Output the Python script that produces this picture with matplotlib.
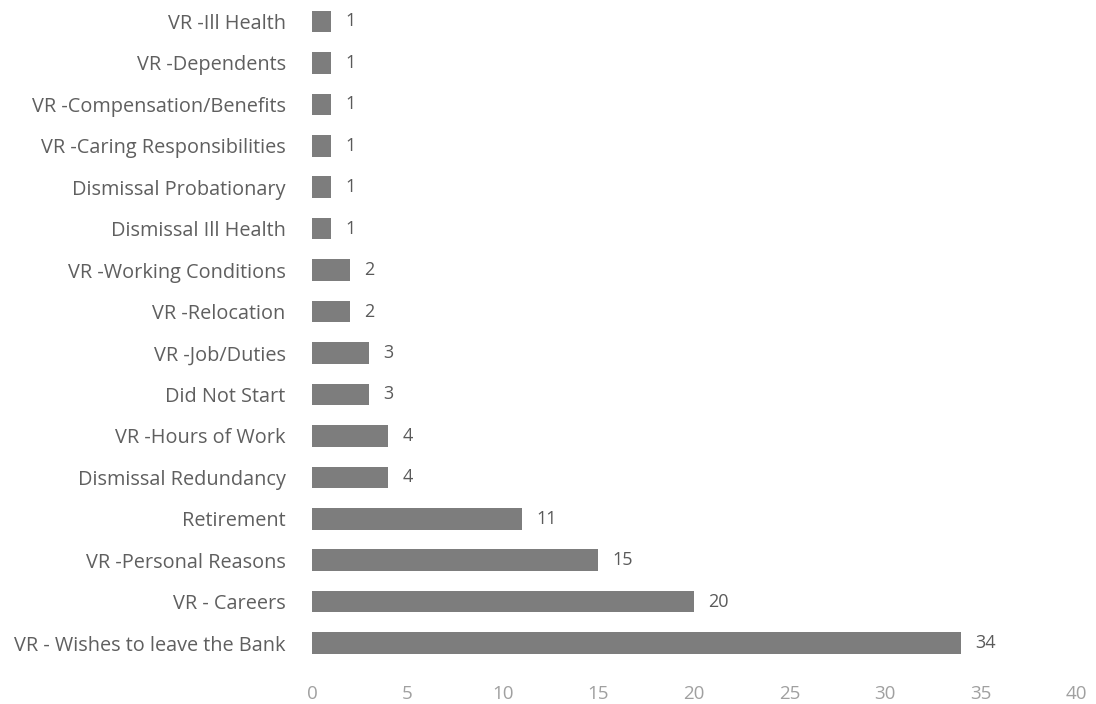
import matplotlib
matplotlib.use("Agg")
from matplotlib import pyplot as plt

plt.rcParams['font.family'] = ['Open Sans', 'DejaVu Sans']

# Leaver reasons, bottom to top as drawn
reasons = [
    "VR - Wishes to leave the Bank", "VR - Careers", "VR -Personal Reasons",
    "Retirement", "Dismissal Redundancy", "VR -Hours of Work", "Did Not Start",
    "VR -Job/Duties", "VR -Relocation", "VR -Working Conditions",
    "Dismissal Ill Health", "Dismissal Probationary",
    "VR -Caring Responsibilities", "VR -Compensation/Benefits",
    "VR -Dependents", "VR -Ill Health",
]
counts = [34, 20, 15, 11, 4, 4, 3, 3, 2, 2, 1, 1, 1, 1, 1, 1]
x_ticks = [0, 5, 10, 15, 20, 25, 30, 35, 40]

fig = plt.figure(figsize=(10.96, 7.04), dpi=100)
ax = fig.add_axes([0.2847, 0.057, 0.697, 0.945])

bars = ax.barh(range(len(reasons)), counts, height=0.52, color='#7d7d7d')

for bar, v in zip(bars, counts):
    ax.text(bar.get_width() + 0.75, bar.get_y() + bar.get_height() / 2,
            str(v), ha='left', va='center', fontsize=13, color='#5a5a5a')

ax.set_yticks(range(len(reasons)))
ax.set_yticklabels(reasons, fontsize=14.3, color='#5f5f5f')
ax.set_xticks(x_ticks)
ax.set_xticklabels([str(t) for t in x_ticks], fontsize=13.5, color='#a0a0a0')
ax.set_xlim(0, 40)
ax.set_ylim(-0.5, 15.55)
ax.tick_params(axis='both', length=0)
ax.tick_params(axis='y', pad=19)
ax.tick_params(axis='x', pad=15)
for s in ax.spines.values():
    s.set_visible(False)

plt.savefig('out.png', dpi=100)
